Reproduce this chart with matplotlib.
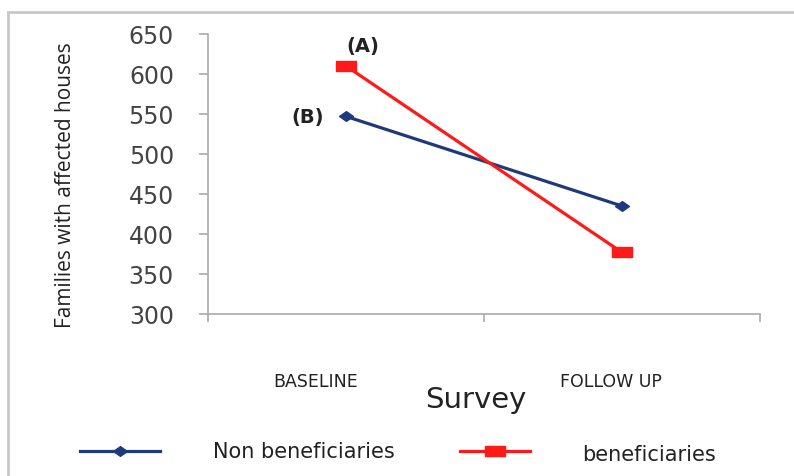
import matplotlib.pyplot as plt
from matplotlib.patches import Rectangle
from matplotlib.lines import Line2D

surveys = ['BASELINE', 'FOLLOW UP']
non_beneficiaries = [547, 435]
beneficiaries = [610, 377]
series_names = ['Non beneficiaries', 'beneficiaries']
point_labels = ['(B)', '(A)']

narrow = ['Liberation Sans Narrow', 'DejaVu Sans']
blue = '#1f3a7a'
red = '#ff1a1a'
# slightly flattened markers, as in the original
diamond = [(-1, 0), (0, 0.7), (1, 0), (0, -0.7), (-1, 0)]
rect = [(-1, -0.55), (1, -0.55), (1, 0.55), (-1, 0.55), (-1, -0.55)]

fig = plt.figure(figsize=(7.94, 4.77), dpi=100)
ax = fig.add_axes([208 / 794, 1 - 315 / 477, 552 / 794, 280 / 477])

# outer frame (left and top border visible)
fig.patches.append(Rectangle((8 / 794, -0.1), 1.2, 1 - 13 / 477 + 0.1,
                             transform=fig.transFigure, fill=False,
                             edgecolor='#c8c8c8', linewidth=2.0))

x = [0.5, 1.5]
ax.plot(x, non_beneficiaries, color=blue, linewidth=2.3, marker=diamond,
        markersize=10, zorder=3)
ax.plot(x, beneficiaries, color=red, linewidth=2.3, marker=rect,
        markersize=14, zorder=3)

ax.text(x[0] - 0.08, non_beneficiaries[0], point_labels[0], ha='right', va='center',
        fontsize=14, fontweight='bold', color='#222222')
ax.text(x[0], beneficiaries[0] + 26, point_labels[1], ha='left', va='center',
        fontsize=14, fontweight='bold', color='#222222')

ax.set_xlim(0, 2)
ax.set_ylim(300, 650)
ax.set_yticks(range(300, 651, 50))
ax.set_xticks([0, 1, 2])
ax.set_xticklabels([])
ax.tick_params(axis='x', length=6, color='#aaaaaa', width=1.2)
ax.tick_params(axis='y', length=6.5, color='#aaaaaa', width=1.2, pad=18,
               labelsize=17, labelcolor='#444444')

for s in ['top', 'right']:
    ax.spines[s].set_visible(False)
for s in ['left', 'bottom']:
    ax.spines[s].set_color('#aaaaaa')
    ax.spines[s].set_linewidth(1.2)

# category labels sit a little left of the points in the original
for px, lab in zip([316, 611], surveys):
    fig.text(px / 794, 1 - 382 / 477, lab, ha='center', va='center',
             fontsize=12.5, family=narrow, color='#222222')

fig.text(66 / 794, 1 - 185 / 477, 'Families with affected houses', rotation=90,
         ha='center', va='center', fontsize=15, family=['Open Sans', 'DejaVu Sans'],
         color='#222222')
fig.text(476 / 794, 1 - 400 / 477, 'Survey', ha='center', va='center',
         fontsize=21, family=narrow, color='#222222')

# legend drawn by hand at the bottom
leg_y = 1 - 452 / 477
fig.add_artist(Line2D([80 / 794, 160 / 794], [leg_y, leg_y], color=blue, linewidth=2.3))
fig.add_artist(Line2D([120 / 794], [leg_y], color=blue, marker=diamond, markersize=10))
fig.add_artist(Line2D([460 / 794, 530 / 794], [leg_y, leg_y], color=red, linewidth=2.3))
fig.add_artist(Line2D([495 / 794], [leg_y], color=red, marker=rect, markersize=14))
fig.text(213 / 794, leg_y, series_names[0], ha='left', va='center',
         fontsize=15, family=narrow, color='#222222')
fig.text(582 / 794, leg_y - 0.006, series_names[1], ha='left', va='center',
         fontsize=15, family=narrow, color='#222222')

fig.savefig('out.png', dpi=100)
